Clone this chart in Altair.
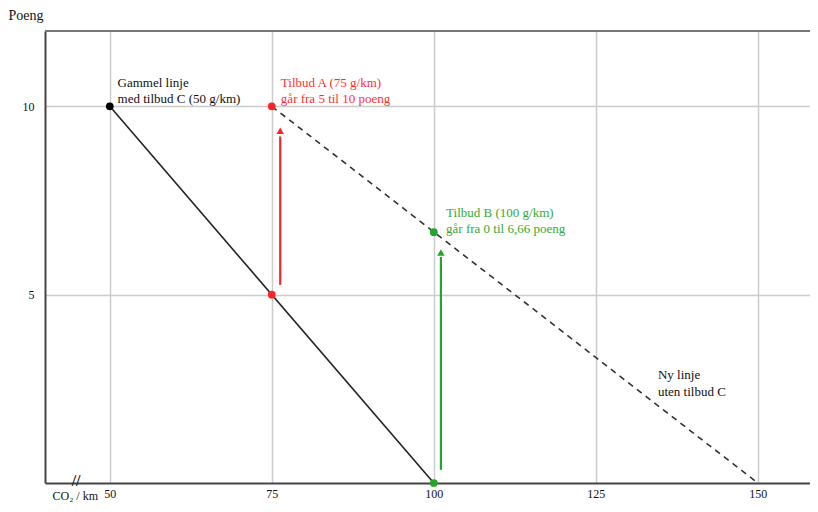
import altair as alt
import pandas as pd

# ---- data ----
x_ticks = [50, 75, 100, 125, 150]
y_ticks = [5, 10]
x_domain = [40, 158.06]
y_domain = [0, 12]

old_x = [50, 100]
old_y = [10, 0]
new_x = [75, 150]
new_y = [10, 0]

pt_x = [50, 75, 75, 100, 100]
pt_y = [10, 10, 5, 6.66, 0]
pt_color = ["#000000", "#ff2424", "#ff2424", "#22a52a", "#22a52a"]

arrow_x = [76.3, 101.1]
arrow_y0 = [5.26, 0.35]
arrow_y1 = [9.2, 6.0]
arrow_head = [9.35, 6.12]
arrow_color = ["#ff2424", "#22a52a"]

ann_x = [51.2, 51.2, 76.4, 76.4, 101.9, 101.9, 134.6, 134.6]
ann_y = [10.62, 10.19, 10.62, 10.19, 7.17, 6.74, 2.87, 2.42]
ann_text = ["Gammel linje", "med tilbud C (50 g/km)",
            "Tilbud A (75 g/km)", "går fra 5 til 10 poeng",
            "Tilbud B (100 g/km)", "går fra 0 til 6,66 poeng",
            "Ny linje", "uten tilbud C"]
ann_color = ["#111111", "#111111", "#ff3030", "#ff3030",
             "#33aa33", "#33aa33", "#111111", "#111111"]

break_x = [44.8]
break_y = [0.05]

FONT = "Liberation Serif"

xs = alt.Scale(domain=x_domain, nice=False, zero=False)
ys = alt.Scale(domain=y_domain, nice=False, zero=False)

X = alt.X("x:Q", scale=xs, axis=alt.Axis(
    values=x_ticks, title="CO₂ / km", titleAlign="left", titleAnchor="start",
    titleX=7, titleY=12, titleBaseline="middle", titleFontWeight="normal",
    titleFontSize=12, titleFont=FONT, labelPadding=5, labelFlush=False))
Y = alt.Y("y:Q", scale=ys, axis=alt.Axis(
    values=y_ticks, title="Poeng", titleAngle=0, titleAlign="left",
    titleX=-37, titleY=-16, titleBaseline="middle", titleFontWeight="normal",
    titleFontSize=14, titleFont=FONT, labelPadding=11))

old_df = pd.DataFrame({"x": old_x, "y": old_y})
new_df = pd.DataFrame({"x": new_x, "y": new_y})
pt_df = pd.DataFrame({"x": pt_x, "y": pt_y, "c": pt_color})
arr_df = pd.DataFrame({"x": arrow_x, "y": arrow_y0, "y2": arrow_y1, "c": arrow_color})
head_df = pd.DataFrame({"x": arrow_x, "y": arrow_head, "c": arrow_color})
ann_df = pd.DataFrame({"x": ann_x, "y": ann_y, "t": ann_text, "c": ann_color})
brk_df = pd.DataFrame({"x": break_x, "y": break_y, "t": ["//"]})
top_df = pd.DataFrame({"x": [x_domain[0]], "x2": [x_domain[1]], "y": [y_domain[1]]})

top = alt.Chart(top_df).mark_rule(color="#777777", strokeWidth=2).encode(x=X, x2="x2:Q", y=Y)
old_line = alt.Chart(old_df).mark_line(color="#222222", strokeWidth=1.6).encode(x=X, y=Y)
new_line = alt.Chart(new_df).mark_line(color="#333333", strokeWidth=1.6,
                                       strokeDash=[6, 5]).encode(x=X, y=Y)
shafts = alt.Chart(arr_df).mark_rule(strokeWidth=2.2).encode(
    x=X, y=Y, y2="y2:Q", color=alt.Color("c:N", scale=None))
heads = alt.Chart(head_df).mark_point(shape="triangle-up", filled=True, size=55,
                                      opacity=1).encode(
    x=X, y=Y, color=alt.Color("c:N", scale=None))
points = alt.Chart(pt_df).mark_circle(size=60, opacity=1).encode(
    x=X, y=Y, color=alt.Color("c:N", scale=None))
labels = alt.Chart(ann_df).mark_text(align="left", baseline="middle", font=FONT,
                                     fontSize=13).encode(
    x=X, y=Y, text="t:N", color=alt.Color("c:N", scale=None))
brk = alt.Chart(brk_df).mark_text(align="center", baseline="middle", font=FONT,
                                  fontSize=16, fontWeight="bold", color="#222222").encode(
    x=X, y=Y, text="t:N")

chart = alt.layer(top, old_line, new_line, shafts, heads, points, labels, brk).properties(
    width=765, height=452,
    autosize=alt.AutoSizeParams(type="none"),
    padding={"left": 37, "top": 23, "right": 0, "bottom": 21},
).configure_view(stroke=None).configure_axis(
    labelFont=FONT, labelFontSize=12, labelColor="#111111",
    gridColor="#cccccc", gridWidth=1.5, domainColor="#444444", domainWidth=2,
    ticks=False, titleColor="#111111",
)

chart.save("out.html", embed_options={"renderer": "svg", "actions": False})
